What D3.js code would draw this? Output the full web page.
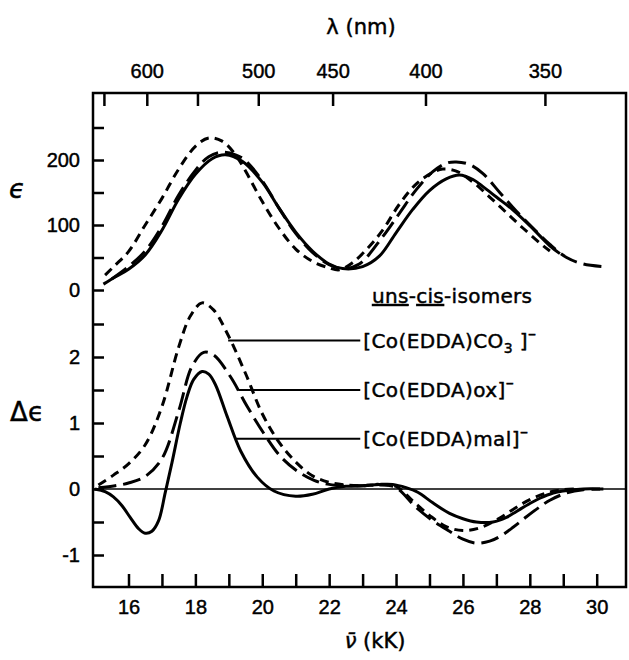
<!DOCTYPE html>
<html>
<head>
<meta charset="utf-8">
<script src="https://cdn.jsdelivr.net/npm/d3@7"></script>
<style>
  body { margin: 0; background: #fff; }
  svg { font-family: "DejaVu Sans", sans-serif; }
  svg text { stroke: #000; stroke-width: 0.45; }
  .axis path { display: none; }
  .axis line { stroke: #000; stroke-width: 2.5; }
  .axis text { font-size: 20px; fill: #000; }
</style>
</head>
<body>
<svg width="629" height="660"></svg>
<script>
// absorption (epsilon) curves, [wavenumber kK, epsilon]
var epsCO3 = [[15.3,23],[15.6,38],[16.0,59],[16.5,100],[17.0,141],[17.5,186],[18.0,221],[18.4,234],[18.8,229],[19.2,208],[19.5,183],[20.0,136],[20.5,95],[21.0,63],[21.5,44],[22.0,34],[22.3,31],[22.7,42],[23.2,67],[23.6,92],[24.1,132],[24.6,163],[25.1,181],[25.4,186],[25.8,183],[26.3,166],[26.8,143],[27.3,119],[27.8,95],[28.4,68],[28.6,60]];
var epsOx = [[15.5,17],[16.0,36],[16.5,60],[17.0,98],[17.5,146],[18.0,184],[18.4,205],[18.8,212],[19.2,208],[19.5,199],[20.0,168],[20.5,126],[21.0,87],[21.5,58],[22.0,39],[22.4,33],[22.9,40],[23.6,82],[24.1,118],[24.6,154],[25.1,182],[25.5,195],[25.8,197],[26.2,193],[26.6,179],[27.1,150],[27.6,121],[28.1,95],[28.6,70],[29.1,50],[29.6,40],[30.2,36]];
var epsMal = [[15.25,9],[15.6,20],[16.0,32],[16.5,54],[17.0,92],[17.5,140],[18.0,178],[18.5,202],[18.9,208],[19.4,198],[20.0,166],[20.5,126],[21.0,89],[21.5,60],[22.0,40],[22.4,33],[23.0,36],[23.5,52],[24.0,88],[24.5,124],[25.0,153],[25.5,171],[25.9,177],[26.3,170],[26.6,159],[27.0,143],[27.5,123],[28.0,99],[28.6,68],[28.9,56]];

// circular dichroism (delta epsilon) curves
var cdCO3 = [[15.1,0.06],[15.55,0.21],[16.0,0.38],[16.5,0.67],[17.0,1.25],[17.5,2.15],[17.85,2.62],[18.2,2.82],[18.55,2.71],[18.95,2.36],[19.5,1.75],[20.0,1.14],[20.5,0.71],[21.0,0.41],[21.5,0.2],[22.0,0.1],[22.5,0.06],[23.0,0.05],[23.5,0.06],[24.0,0.04],[24.5,-0.18],[25.0,-0.4],[25.5,-0.57],[26.0,-0.63],[26.5,-0.59],[27.0,-0.47],[27.5,-0.31],[28.0,-0.16],[28.5,-0.06],[29.0,-0.01],[29.5,0]];
var cdOx = [[15.1,0.02],[15.6,0.05],[16.0,0.09],[16.5,0.19],[17.0,0.46],[17.5,1.18],[17.9,1.86],[18.25,2.07],[18.55,2.03],[19.05,1.7],[19.55,1.25],[20.05,0.84],[20.55,0.49],[21.05,0.27],[21.55,0.13],[22.0,0.07],[22.5,0.05],[23.0,0.05],[23.5,0.07],[24.0,0.02],[24.6,-0.28],[25.1,-0.48],[25.6,-0.64],[26.0,-0.76],[26.4,-0.82],[26.8,-0.79],[27.1,-0.72],[27.5,-0.58],[27.9,-0.42],[28.3,-0.27],[28.6,-0.17],[29.1,-0.06],[29.6,-0.01],[30.2,0]];
var cdMal = [[15.0,0],[15.3,-0.04],[15.55,-0.12],[15.8,-0.25],[16.05,-0.43],[16.3,-0.6],[16.5,-0.67],[16.7,-0.64],[16.9,-0.48],[17.1,-0.05],[17.3,0.4],[17.55,1.0],[17.75,1.4],[17.95,1.66],[18.2,1.78],[18.4,1.74],[18.6,1.58],[18.95,1.1],[19.35,0.58],[19.85,0.18],[20.35,-0.03],[21.0,-0.11],[21.5,-0.08],[22.0,0],[22.5,0.04],[23.0,0.05],[23.5,0.07],[23.9,0.07],[24.3,0.02],[24.65,-0.05],[25.1,-0.21],[25.6,-0.37],[26.0,-0.45],[26.4,-0.5],[26.9,-0.5],[27.3,-0.43],[27.6,-0.34],[28.0,-0.22],[28.3,-0.14],[28.7,-0.06],[29.0,-0.03],[29.6,0],[30.1,0]];

// legend: label, leader line level (delta eps), start wavenumber
var legendNames = ['CO3', 'ox', 'mal'];
var legendLevels = [2.25, 1.5, 0.76];
var legendStart = [18.98, 19.28, 19.19];
var legendEnd = 22.93;

// ticks
var nuTicks = d3.range(16, 31, 1);
var nuLabels = [16, 18, 20, 22, 24, 26, 28, 30];
var lambdaTicks = [650, 600, 550, 500, 450, 400, 350];
var lambdaLabels = [600, 500, 450, 400, 350];
var epsTicks = [0, 50, 100, 150, 200, 250];
var epsLabels = [0, 100, 200];
var cdTicks = [-1, -0.5, 0, 0.5, 1, 1.5, 2, 2.5];
var cdLabels = [-1, 0, 1, 2];

function main() {
	var svg = d3.select('svg');

	var x = d3.scaleLinear().domain([16, 30]).range([128.5, 596.7]);
	var yE = d3.scaleLinear().domain([0, 200]).range([290, 160]);
	var yD = d3.scaleLinear().domain([0, 1]).range([489, 423]);

	var left = 93, right = 626, top = 93, bottom = 587;

	svg.append('rect').attr('width', 629).attr('height', 660).attr('fill', '#fff');

	// frame
	svg.append('rect')
		.attr('x', left).attr('y', top)
		.attr('width', right - left).attr('height', bottom - top)
		.attr('fill', 'none').attr('stroke', '#000').attr('stroke-width', 2.5);

	// zero line of the CD part
	svg.append('line')
		.attr('x1', left).attr('x2', right)
		.attr('y1', yD(0)).attr('y2', yD(0))
		.attr('stroke', '#000').attr('stroke-width', 1.6);

	// bottom axis
	svg.append('g').attr('class', 'axis')
		.attr('transform', 'translate(0,' + bottom + ')')
		.call(d3.axisBottom(x).tickValues(nuTicks).tickSizeInner(-13).tickSizeOuter(0).tickPadding(13)
			.tickFormat(function(d){ return nuLabels.indexOf(d) >= 0 ? d : ''; }));

	// top axis, wavelength
	svg.append('g').attr('class', 'axis')
		.attr('transform', 'translate(-4,' + top + ')')
		.call(d3.axisTop(x).tickValues(lambdaTicks.map(function(l){ return 1e4 / l; }))
			.tickSizeInner(-13).tickSizeOuter(0).tickPadding(15)
			.tickFormat(function(d){ var l = Math.round(1e4 / d); return lambdaLabels.indexOf(l) >= 0 ? l : ''; }));

	// left axes
	svg.append('g').attr('class', 'axis')
		.attr('transform', 'translate(' + left + ',0)')
		.call(d3.axisLeft(yE).tickValues(epsTicks).tickSizeInner(-11).tickSizeOuter(0).tickPadding(13)
			.tickFormat(function(d){ return epsLabels.indexOf(d) >= 0 ? d : ''; }));
	svg.append('g').attr('class', 'axis')
		.attr('transform', 'translate(' + left + ',0)')
		.call(d3.axisLeft(yD).tickValues(cdTicks).tickSizeInner(-11).tickSizeOuter(0).tickPadding(13)
			.tickFormat(function(d){ return cdLabels.indexOf(d) >= 0 ? d : ''; }));

	// curves
	var lineE = d3.line().x(function(d){ return x(d[0]); }).y(function(d){ return yE(d[1]); }).curve(d3.curveCatmullRom.alpha(0.5));
	var lineD = d3.line().x(function(d){ return x(d[0]); }).y(function(d){ return yD(d[1]); }).curve(d3.curveCatmullRom.alpha(0.5));

	var styles = { CO3: '9,6', ox: '18,7', mal: null };
	var curves = [
		{ d: epsCO3, line: lineE, k: 'CO3' }, { d: epsOx, line: lineE, k: 'ox' }, { d: epsMal, line: lineE, k: 'mal' },
		{ d: cdCO3, line: lineD, k: 'CO3' }, { d: cdOx, line: lineD, k: 'ox' }, { d: cdMal, line: lineD, k: 'mal' }
	];
	svg.selectAll('.curve')
		.data(curves)
		.enter().append('path')
		.attr('class', 'curve')
		.attr('d', function(c){ return c.line(c.d); })
		.attr('fill', 'none')
		.attr('stroke', '#000')
		.attr('stroke-width', 3)
		.attr('stroke-dasharray', function(c){ return styles[c.k]; });

	// legend leader lines and labels
	var leg = svg.selectAll('.leg')
		.data(legendNames)
		.enter().append('g').attr('class', 'leg');
	leg.append('line')
		.attr('x1', function(d, i){ return x(legendStart[i]); })
		.attr('x2', x(legendEnd))
		.attr('y1', function(d, i){ return yD(legendLevels[i]); })
		.attr('y2', function(d, i){ return yD(legendLevels[i]); })
		.attr('stroke', '#000').attr('stroke-width', 2);
	var t = leg.append('text')
		.attr('x', x(legendEnd) + 3)
		.attr('y', function(d, i){ return yD(legendLevels[i]) + 7; })
		.attr('font-size', 20).attr('letter-spacing', 0.4);
	t.append('tspan').text('[Co(EDDA)');
	t.each(function(d){
		var s = d3.select(this);
		if (d === 'CO3') {
			s.append('tspan').text('CO');
			s.append('tspan').attr('font-size', 14).attr('dy', 5).text('3');
			s.append('tspan').attr('dy', -5).text(' ]');
		} else {
			s.append('tspan').text(d + ']');
		}
		s.append('tspan').attr('dy', -9).attr('font-size', 16).text('\u2013');
	});

	// isomer note
	var note = svg.append('text').attr('x', 372).attr('y', 303).attr('font-size', 20).attr('letter-spacing', 0.3);
	note.append('tspan').attr('text-decoration', 'underline').text('uns');
	note.append('tspan').text('-');
	note.append('tspan').attr('text-decoration', 'underline').text('cis');
	note.append('tspan').text('-isomers');

	// axis titles
	svg.append('text').attr('x', 361).attr('y', 34).attr('text-anchor', 'middle').attr('font-size', 21).text('\u03bb (nm)');
	var nuTitle = svg.append('text').attr('x', 375).attr('y', 648).attr('text-anchor', 'middle').attr('font-size', 21);
	nuTitle.append('tspan').attr('font-style', 'italic').text('\u03bd\u0304');
	nuTitle.append('tspan').text('  (kK)');
	svg.append('text').attr('x', 17).attr('y', 198).attr('text-anchor', 'middle').attr('font-size', 26).attr('font-style', 'italic').text('\u03f5');
	svg.append('text').attr('x', 27).attr('y', 421).attr('text-anchor', 'middle').attr('font-size', 26).text('\u0394\u03f5');
}
main();
</script>
</body>
</html>
